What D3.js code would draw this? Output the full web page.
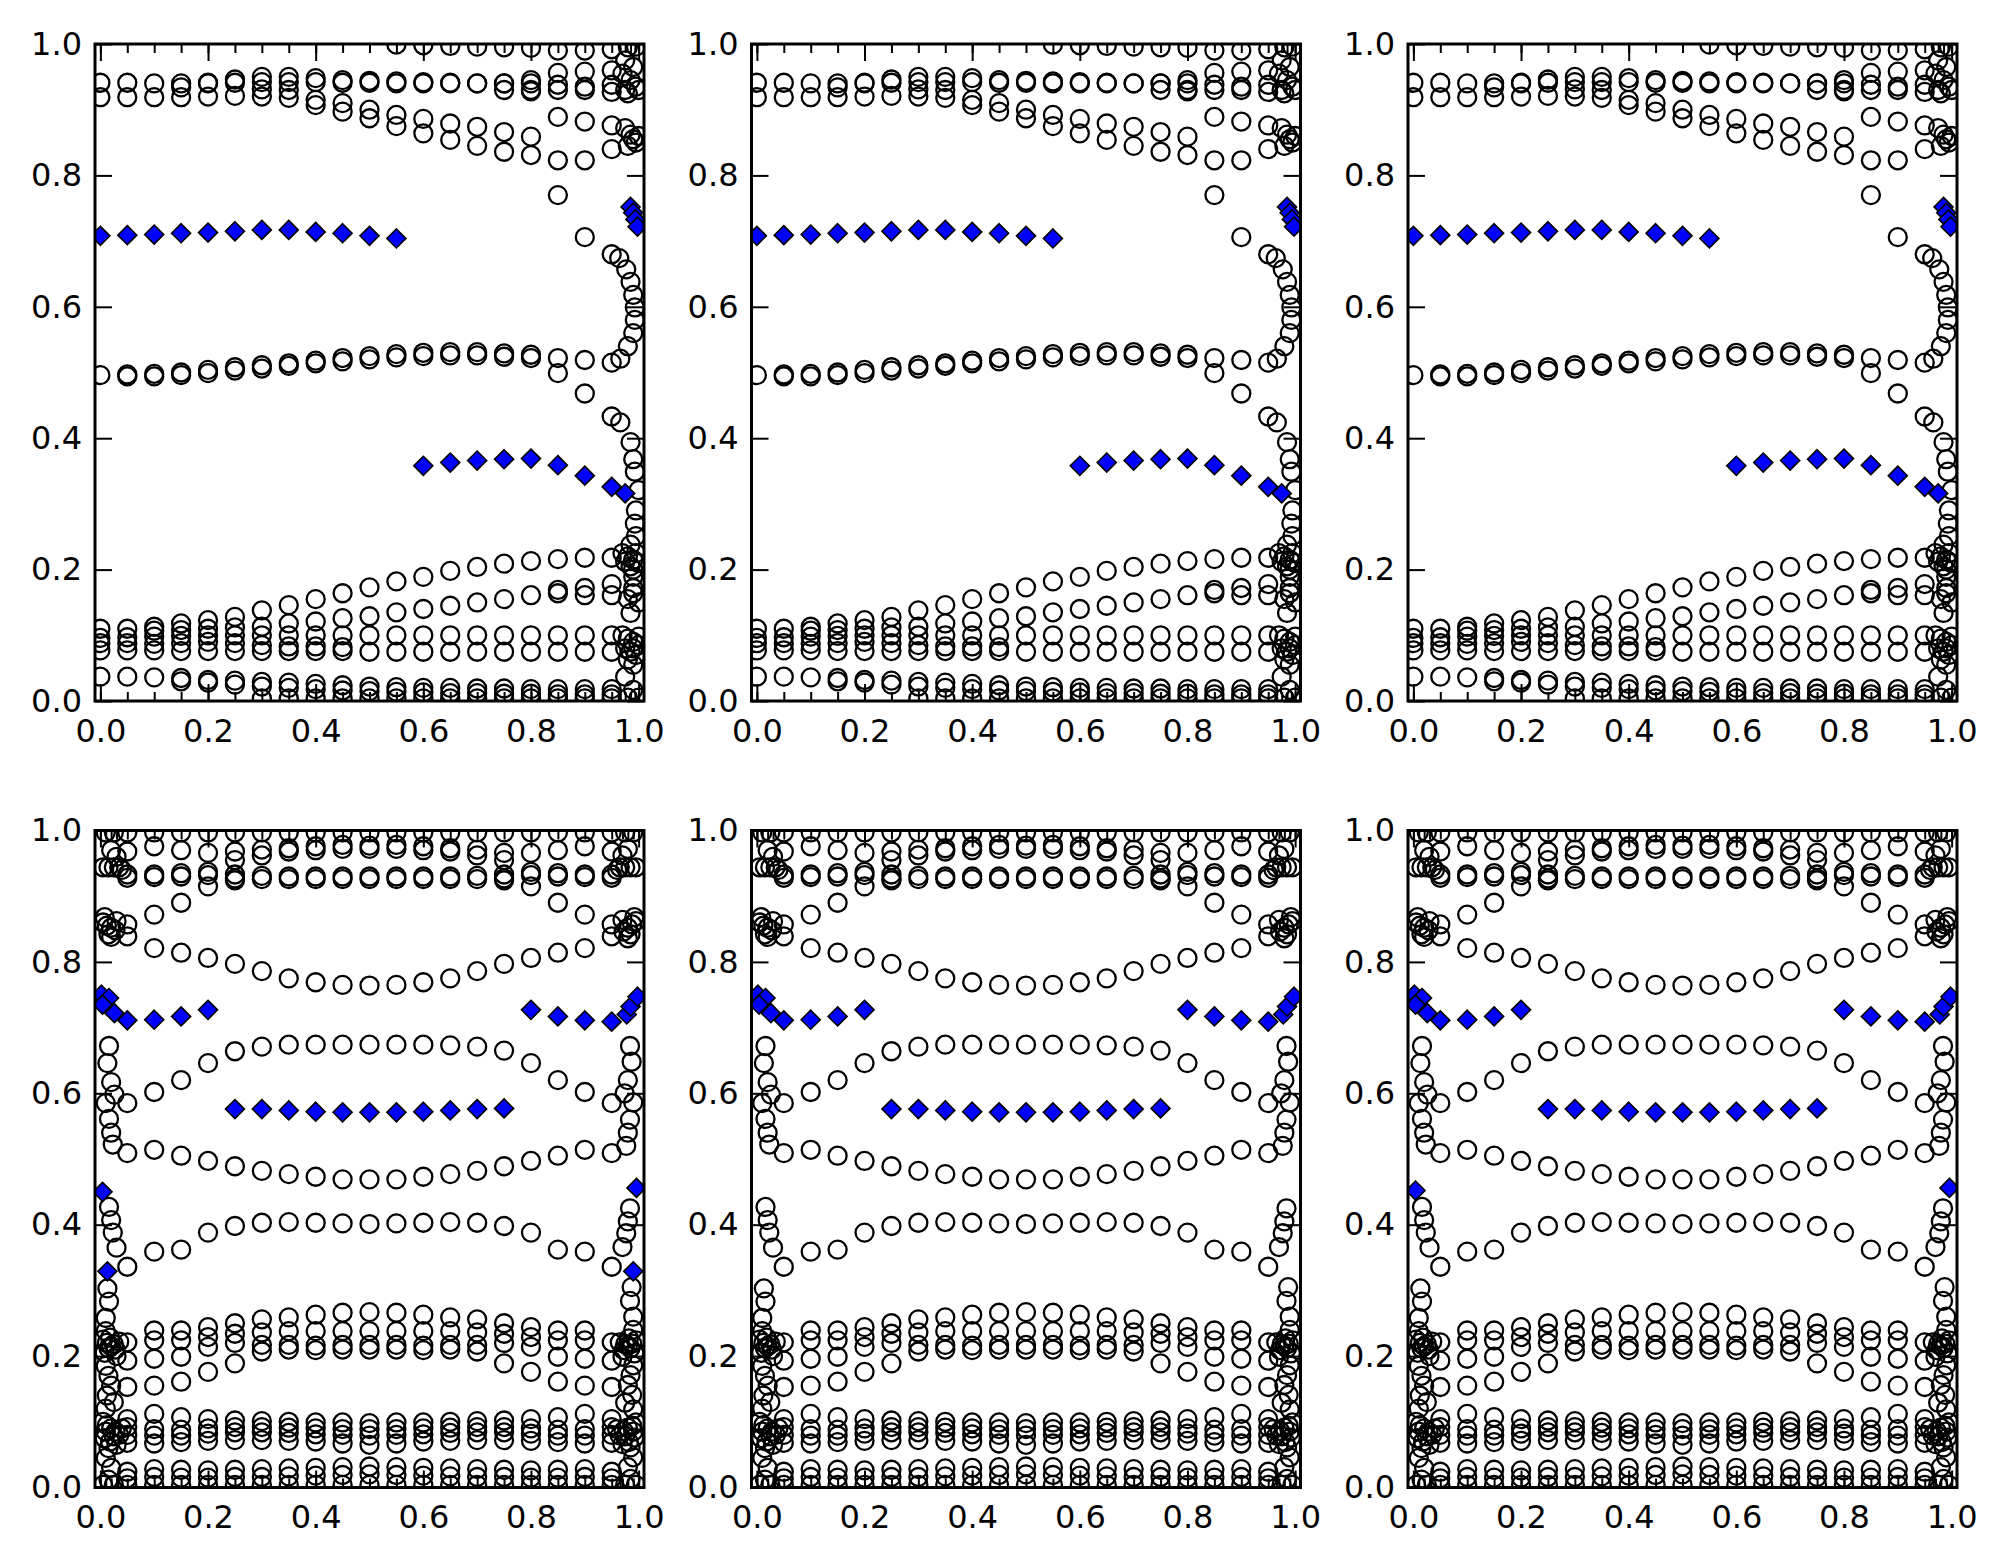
<!DOCTYPE html>
<html>
<head>
<meta charset="utf-8">
<script src="https://cdn.jsdelivr.net/npm/d3@7"></script>
<style>
  body { margin: 0; background: #fff; }
  text { font-family: "DejaVu Sans", sans-serif; }
</style>
</head>
<body>
<svg id="fig"></svg>
<script>
// x grid shared by all panels
var XS = [0,0.05,0.1,0.15,0.2,0.25,0.3,0.35,0.4,0.45,0.5,0.55,0.6,0.65,0.7,0.75,0.8,0.85,0.9,0.95];
var N = null;

// ---- top row : open circles, one array per branch (values per XS)
var topEdgeRow = [N,N,N,N,N,N,N,N,N,N,N,0.999,0.998,0.997,0.996,0.995,0.994,0.99,0.99,0.992];
var bandA = [0.941,0.941,0.94,0.94,0.941,0.941,0.942,0.942,0.942,0.941,0.941,0.94,0.94,0.94,0.94,0.94,0.94,0.938,0.935,0.938];
var bandB = [N,N,N,0.934,0.94,0.946,0.95,0.95,0.948,0.945,0.944,0.943,0.942,0.941,0.94,0.94,0.945,0.956,0.958,0.96];
var bandC = [0.919,0.919,0.919,0.919,0.92,0.921,0.92,0.918,0.915,0.91,0.9,0.892,0.886,0.879,0.874,0.866,0.859,0.823,0.823,0.84];
var bandD = [N,N,N,N,N,N,0.931,0.93,0.907,0.897,0.887,0.875,0.864,0.854,0.845,0.836,0.831,0.77,0.706,0.68];
var bandE = [N,N,N,N,N,N,N,N,N,N,N,N,N,N,N,N,0.93,0.889,0.882,0.876];
var bandF = [N,N,N,N,N,N,N,N,N,N,N,N,N,N,N,0.93,0.928,0.93,0.93,0.927];
var mid1 = [0.496,0.497,0.498,0.5,0.504,0.508,0.511,0.514,0.518,0.522,0.525,0.528,0.53,0.531,0.531,0.529,0.527,0.522,0.519,0.515];
var mid2 = [N,0.494,0.494,0.496,0.499,0.503,0.506,0.51,0.514,0.517,0.52,0.523,0.525,0.526,0.526,0.524,0.522,0.499,0.468,0.433];
var lowA = [0.11,0.11,0.113,0.118,0.123,0.128,0.138,0.146,0.155,0.164,0.173,0.182,0.189,0.198,0.204,0.209,0.213,0.216,0.218,0.218];
var lowB = [N,N,0.107,0.108,0.11,0.112,0.113,0.118,0.121,0.126,0.129,0.135,0.14,0.145,0.15,0.155,0.161,0.169,0.172,0.178];
var lowB2 = [N,N,N,N,N,N,N,N,N,N,N,N,N,N,N,N,N,0.164,0.161,0.161];
var lowC = [0.096,0.097,0.098,0.099,0.1,0.1,0.1,0.1,0.1,0.1,0.1,0.1,0.1,0.1,0.1,0.1,0.1,0.1,0.1,0.1];
var lowD = [0.088,0.088,0.087,0.088,0.09,0.088,0.085,0.083,0.083,0.082,N,N,N,N,N,N,N,N,N,N];
var lowE = [0.077,0.077,0.077,0.076,0.076,0.076,0.076,0.076,0.076,0.076,0.075,0.075,0.075,0.075,0.075,0.075,0.075,0.075,0.075,0.075];
var botA = [0.037,0.037,0.036,0.035,0.032,0.031,0.029,0.028,0.026,0.024,0.022,0.021,0.02,0.02,0.019,0.019,0.018,0.018,0.018,0.018];
var botB = [N,N,N,0.03,0.028,0.025,0.022,0.02,0.018,0.016,0.015,0.014,0.013,0.012,0.012,0.011,0.011,0.01,0.01,0.01];
var botC = [N,N,N,N,N,N,0.004,0.004,0.004,0.004,0.004,0.004,0.004,0.004,0.004,0.004,0.004,0.004,0.004,0.004];

// top row : circles crowded against x = 1
var topRightCluster = [
  [0.995,0.996],[0.98,0.995],[0.975,0.975],[0.99,0.965],[0.97,0.955],[0.985,0.945],[0.995,0.935],[0.975,0.93],[1.0,0.93],[0.98,0.925],
  [0.975,0.872],[0.985,0.862],[0.99,0.855],[0.995,0.85],[0.98,0.845],[1.0,0.86],
  [0.964,0.674],[0.977,0.657],[0.985,0.638],[0.99,0.618],[0.993,0.599],[0.993,0.58],[0.99,0.56],[0.98,0.54],[0.966,0.521],
  [0.966,0.424],[0.985,0.394],[0.99,0.368],[0.993,0.349],[1.0,0.321],[0.995,0.29],[0.993,0.27],[0.995,0.251],[0.985,0.238],
  [0.97,0.225],[0.98,0.22],[0.99,0.215],[1.0,0.21],[0.985,0.205],[0.995,0.225],[0.975,0.212],[0.99,0.2],
  [0.99,0.189],[0.99,0.172],[0.99,0.164],[0.98,0.155],[1.0,0.15],[0.985,0.134],
  [0.97,0.1],[0.98,0.095],[0.99,0.09],[1.0,0.085],[0.975,0.08],[0.985,0.075],[0.995,0.07],[0.98,0.063],[0.99,0.055],[1.0,0.098],[0.99,0.08],
  [0.975,0.037],[0.99,0.017],[0.98,0.005],[1.0,0.005]
];

// top row : blue diamonds
var topDiamondsLeftX = [0,0.05,0.1,0.15,0.2,0.25,0.3,0.35,0.4,0.45,0.5,0.55];
var topDiamondsLeftY = [0.708,0.709,0.71,0.712,0.713,0.715,0.717,0.717,0.714,0.712,0.708,0.704];
var topDiamondsRightX = [0.6,0.65,0.7,0.75,0.8,0.85,0.9,0.95,0.975];
var topDiamondsRightY = [0.358,0.363,0.366,0.368,0.369,0.359,0.343,0.326,0.316];
var topDiamondsEdgeX = [0.985,0.99,0.994,0.998];
var topDiamondsEdgeY = [0.752,0.743,0.733,0.722];

// ---- bottom row : open circles
var uTop = [N,0.997,0.997,0.997,0.997,0.997,0.997,0.997,0.997,0.997,0.997,0.997,0.997,0.997,0.997,0.997,0.997,0.997,0.997,0.997];
var u1 = [N,0.968,0.976,0.97,0.966,0.968,0.971,0.973,0.976,0.978,0.977,0.978,0.976,0.973,0.971,0.966,0.966,0.97,0.976,0.968];
var u1b = [N,N,N,N,N,0.955,0.962,0.968,0.97,0.972,0.972,0.972,0.97,0.968,0.962,0.955,N,N,N,N];
var u2 = [N,0.933,0.933,0.935,0.937,0.933,0.931,0.93,0.93,0.93,0.93,0.93,0.93,0.93,0.931,0.933,0.937,0.935,0.933,0.933];
var u2b = [N,0.928,0.929,0.93,0.932,0.927,0.926,0.926,0.926,0.926,0.926,0.926,0.926,0.926,0.926,0.927,0.932,0.93,0.929,0.928];
var u3 = [N,N,N,N,0.915,0.924,N,N,N,N,N,N,N,N,N,0.924,0.915,N,N,N];
var hump = [N,0.857,0.872,0.89,N,N,N,N,N,N,N,N,N,N,N,N,N,0.89,0.872,0.857];
var hump2 = [N,0.839,N,N,N,N,N,N,N,N,N,N,N,N,N,N,N,N,N,0.839];
var dip = [N,N,0.821,0.814,0.806,0.797,0.786,0.775,0.769,0.765,0.764,0.765,0.769,0.775,0.786,0.797,0.806,0.814,0.821,N];
var upperMid = [N,0.585,0.602,0.62,0.646,0.664,0.671,0.674,0.674,0.674,0.674,0.674,0.674,0.673,0.671,0.665,0.646,0.62,0.602,0.585];
var m51 = [N,0.509,0.514,0.505,0.497,0.489,0.482,0.477,0.473,0.469,0.469,0.469,0.473,0.477,0.482,0.489,0.497,0.505,0.514,0.509];
var m40 = [N,0.336,0.359,0.362,0.388,0.398,0.403,0.404,0.403,0.402,0.401,0.402,0.403,0.404,0.403,0.398,0.388,0.362,0.359,0.336];
var l1 = [N,N,0.239,0.239,0.244,0.25,0.256,0.259,0.263,0.266,0.267,0.266,0.263,0.259,0.256,0.25,0.244,0.239,0.239,N];
var l2 = [N,0.221,0.224,0.224,0.229,0.234,0.236,0.238,0.238,0.238,0.238,0.238,0.238,0.238,0.236,0.234,0.229,0.224,0.224,0.221];
var l3 = [N,0.193,0.196,0.199,0.214,0.22,0.217,0.217,0.216,0.217,0.217,0.217,0.216,0.217,0.217,0.22,0.214,0.199,0.196,0.193];
var l4 = [N,N,N,N,N,N,0.207,0.21,0.209,0.21,0.21,0.21,0.209,0.21,0.207,N,N,N,N,N];
var l5 = [N,0.153,0.155,0.161,0.176,0.189,N,N,N,N,N,N,N,N,N,0.189,0.176,0.161,0.155,0.153];
var b1 = [N,0.104,0.112,0.107,0.104,0.102,0.101,0.1,0.099,0.099,0.098,0.099,0.099,0.1,0.101,0.102,0.104,0.107,0.112,0.104];
var b2 = [N,0.092,0.089,0.088,0.09,0.092,0.092,0.091,0.09,0.089,0.089,0.089,0.09,0.091,0.092,0.092,0.09,0.088,0.089,0.092];
var b3 = [N,0.08,0.079,0.079,0.082,0.084,0.084,0.083,0.081,0.08,0.079,0.08,0.081,0.083,0.084,0.084,0.082,0.079,0.079,0.08];
var b4 = [N,0.068,0.067,0.069,0.071,0.072,0.072,0.071,0.07,0.067,0.065,0.067,0.07,0.071,0.072,0.072,0.071,0.069,0.067,0.068];
var bb1 = [N,0.024,0.028,0.027,0.026,0.027,0.028,0.029,0.03,0.031,0.032,0.031,0.03,0.029,0.028,0.027,0.026,0.027,0.028,0.024];
var bb2 = [N,0.014,0.016,0.015,0.015,0.016,0.016,0.017,0.018,0.019,0.02,0.019,0.018,0.017,0.016,0.016,0.015,0.015,0.016,0.014];
var bb3 = [N,0.004,0.004,0.004,0.004,0.004,0.004,0.004,0.004,0.004,0.004,0.004,0.004,0.004,0.004,0.004,0.004,0.004,0.004,0.004];

// bottom row : circles crowded against x = 0 and x = 1
var botLeftCluster = [
  [0.01,0.997],[0.025,0.997],[0.02,0.97],[0.03,0.96],[0.005,0.944],[0.015,0.944],[0.025,0.944],[0.035,0.944],[0.04,0.94],
  [0.005,0.86],[0.012,0.855],[0.02,0.852],[0.028,0.848],[0.015,0.842],[0.03,0.862],[0.008,0.868],[0.02,0.838],
  [0.016,0.672],[0.013,0.646],[0.02,0.617],[0.026,0.598],[0.01,0.585],[0.016,0.561],[0.02,0.54],[0.023,0.522],
  [0.016,0.427],[0.02,0.407],[0.023,0.388],[0.03,0.365],[0.013,0.303],[0.016,0.283],[0.01,0.258],[0.01,0.238],
  [0.005,0.225],[0.012,0.22],[0.02,0.215],[0.028,0.21],[0.035,0.222],[0.008,0.205],[0.018,0.228],[0.03,0.2],[0.015,0.212],[0.025,0.218],
  [0.01,0.185],[0.015,0.17],[0.02,0.155],[0.012,0.14],[0.025,0.13],[0.01,0.12],
  [0.005,0.1],[0.012,0.095],[0.02,0.09],[0.028,0.085],[0.035,0.08],[0.008,0.075],[0.018,0.07],[0.03,0.065],[0.04,0.09],[0.015,0.06],[0.01,0.085],[0.025,0.078],
  [0.01,0.045],[0.02,0.03],[0.015,0.012],[0.005,0.004],[0.025,0.004]
];
var botRightCluster = [
  [0.99,0.997],[0.975,0.997],[0.98,0.972],[0.97,0.962],[0.985,0.944],[0.975,0.944],[0.965,0.944],[0.995,0.944],[0.96,0.94],
  [0.995,0.862],[0.988,0.857],[0.98,0.852],[0.972,0.846],[0.985,0.842],[0.97,0.864],[0.992,0.868],[0.98,0.836],
  [0.984,0.672],[0.987,0.648],[0.98,0.62],[0.974,0.6],[0.99,0.586],[0.984,0.56],[0.98,0.54],[0.977,0.52],
  [0.984,0.425],[0.98,0.405],[0.977,0.387],[0.97,0.366],[0.987,0.305],[0.984,0.284],[0.99,0.26],[0.99,0.24],
  [0.995,0.224],[0.988,0.219],[0.98,0.216],[0.972,0.209],[0.965,0.221],[0.992,0.204],[0.982,0.227],[0.97,0.199],[0.985,0.212],[0.975,0.218],
  [0.99,0.186],[0.985,0.171],[0.98,0.156],[0.988,0.141],[0.975,0.129],[0.99,0.119],
  [0.995,0.099],[0.988,0.094],[0.98,0.091],[0.972,0.086],[0.965,0.079],[0.992,0.076],[0.982,0.069],[0.97,0.066],[0.96,0.089],[0.985,0.061],[0.99,0.085],[0.975,0.078],
  [0.99,0.046],[0.98,0.031],[0.985,0.013],[0.995,0.004],[0.975,0.004]
];

// bottom row : blue diamonds
var botDiamondsUpperX = [0.002,0.016,0.004,0.026,0.05,0.1,0.15,0.2,0.8,0.85,0.9,0.95,0.978,0.985,0.998];
var botDiamondsUpperY = [0.75,0.745,0.735,0.722,0.711,0.712,0.717,0.727,0.727,0.717,0.711,0.709,0.72,0.732,0.747];
var botDiamondsMidX = [0.25,0.3,0.35,0.4,0.45,0.5,0.55,0.6,0.65,0.7,0.75];
var botDiamondsMidY = [0.576,0.576,0.574,0.572,0.571,0.571,0.571,0.572,0.574,0.576,0.577];
// extra edge diamonds differing between the lower panels
var extraDiamondsX = [[0.004,0.013,0.996,0.99],[],[0.004,0.996]];
var extraDiamondsY = [[0.45,0.329,0.456,0.329],[],[0.452,0.456]];

var majorTicks = [0,0.2,0.4,0.6,0.8,1.0];
var topEdgeTicks = [0.975,0.985,0.993,1.0];
var botEdgeTicks = [0.01,0.02,0.03,0.97,0.98,0.99,1.0];

// ---- layout
var W = 2004, H = 1565;
var colLeft = [95, 751.5, 1408], rowTop = [44, 830.5];
var pw = 549, ph = 657;

var svg = d3.select("#fig").attr("width", W).attr("height", H);
svg.append("rect").attr("width", W).attr("height", H).attr("fill", "#fff");

function gridPoints(branches) {
  var pts = [];
  branches.forEach(function(b) {
    b.forEach(function(v, i) { if (v !== null) pts.push([XS[i], v]); });
  });
  return pts;
}
function zipPts(xs, ys) { return xs.map(function(x, i) { return [x, ys[i]]; }); }

var topCircles = gridPoints([topEdgeRow, bandA, bandB, bandC, bandD, bandE, bandF, mid1, mid2,
  lowA, lowB, lowB2, lowC, lowD, lowE, botA, botB, botC]).concat(topRightCluster);
var topDiamonds = zipPts(topDiamondsLeftX, topDiamondsLeftY)
  .concat(zipPts(topDiamondsRightX, topDiamondsRightY))
  .concat(zipPts(topDiamondsEdgeX, topDiamondsEdgeY));

var botCircles = gridPoints([uTop, u1, u1b, u2, u2b, u3, hump, hump2, dip, upperMid, m51, m40,
  l1, l2, l3, l4, l5, b1, b2, b3, b4, bb1, bb2, bb3]).concat(botLeftCluster).concat(botRightCluster);
var botDiamonds = zipPts(botDiamondsUpperX, botDiamondsUpperY).concat(zipPts(botDiamondsMidX, botDiamondsMidY));

var diamondPath = "M0,-9.5L9.5,0L0,9.5L-9.5,0Z";

function drawPanel(k) {
  var r = Math.floor(k / 3), c = k % 3;
  var left = colLeft[c], top = rowTop[r];
  var x = d3.scaleLinear().domain([-0.01, 1.01]).range([0, pw]);
  var y = d3.scaleLinear().domain([0, 1]).range([ph, 0]);
  var g = svg.append("g").attr("transform", "translate(" + left + "," + top + ")");

  svg.append("clipPath").attr("id", "clip" + k)
    .append("rect").attr("x", left).attr("y", top).attr("width", pw).attr("height", ph);

  var circles = r === 0 ? topCircles : botCircles;
  var diamonds = r === 0 ? topDiamonds : botDiamonds.concat(zipPts(extraDiamondsX[c], extraDiamondsY[c]));
  var minor = XS.concat(r === 0 ? topEdgeTicks : botEdgeTicks);

  // minor x ticks (at the sampled x positions), inward, bottom and top
  g.append("g").attr("transform", "translate(0," + ph + ")")
    .call(d3.axisBottom(x).tickValues(minor).tickSize(-9).tickFormat(""));
  g.append("g")
    .call(d3.axisTop(x).tickValues(minor).tickSize(-9).tickFormat(""));

  // major ticks
  g.append("g").attr("class", "xax").attr("transform", "translate(0," + ph + ")")
    .call(d3.axisBottom(x).tickValues(majorTicks).tickSize(-17).tickPadding(18).tickFormat(d3.format(".1f")));
  g.append("g")
    .call(d3.axisTop(x).tickValues(majorTicks).tickSize(-17).tickFormat(""));
  g.append("g").attr("class", "yax")
    .call(d3.axisLeft(y).tickValues(majorTicks).tickSize(-17).tickPadding(13).tickFormat(d3.format(".1f")));
  g.append("g").attr("transform", "translate(" + pw + ",0)")
    .call(d3.axisRight(y).tickValues(majorTicks).tickSize(-17).tickFormat(""));

  g.selectAll(".domain").remove();
  g.selectAll(".tick line").attr("stroke", "#000").attr("stroke-width", 2);
  g.selectAll(".tick text").attr("fill", "#000").style("font-size", "32px")
    .style("font-family", "'DejaVu Sans', sans-serif");

  var marks = svg.append("g").attr("clip-path", "url(#clip" + k + ")")
    .append("g").attr("transform", "translate(" + left + "," + top + ")");

  marks.selectAll("circle")
    .data(circles)
    .enter()
    .append("circle")
      .attr("cx", function(d) { return x(d[0]); })
      .attr("cy", function(d) { return y(d[1]); })
      .attr("r", 9)
      .attr("fill", "none")
      .attr("stroke", "#000")
      .attr("stroke-width", 2.3);

  marks.selectAll("path.dia")
    .data(diamonds)
    .enter()
    .append("path")
      .attr("class", "dia")
      .attr("d", diamondPath)
      .attr("transform", function(d) { return "translate(" + x(d[0]) + "," + y(d[1]) + ")"; })
      .attr("fill", "#0000ff")
      .attr("stroke", "#000")
      .attr("stroke-width", 1.6);

  // frame
  svg.append("rect")
    .attr("x", left).attr("y", top).attr("width", pw).attr("height", ph)
    .attr("fill", "none").attr("stroke", "#000").attr("stroke-width", 3);
}

for (var k = 0; k < 6; k++) drawPanel(k);
</script>
</body>
</html>
